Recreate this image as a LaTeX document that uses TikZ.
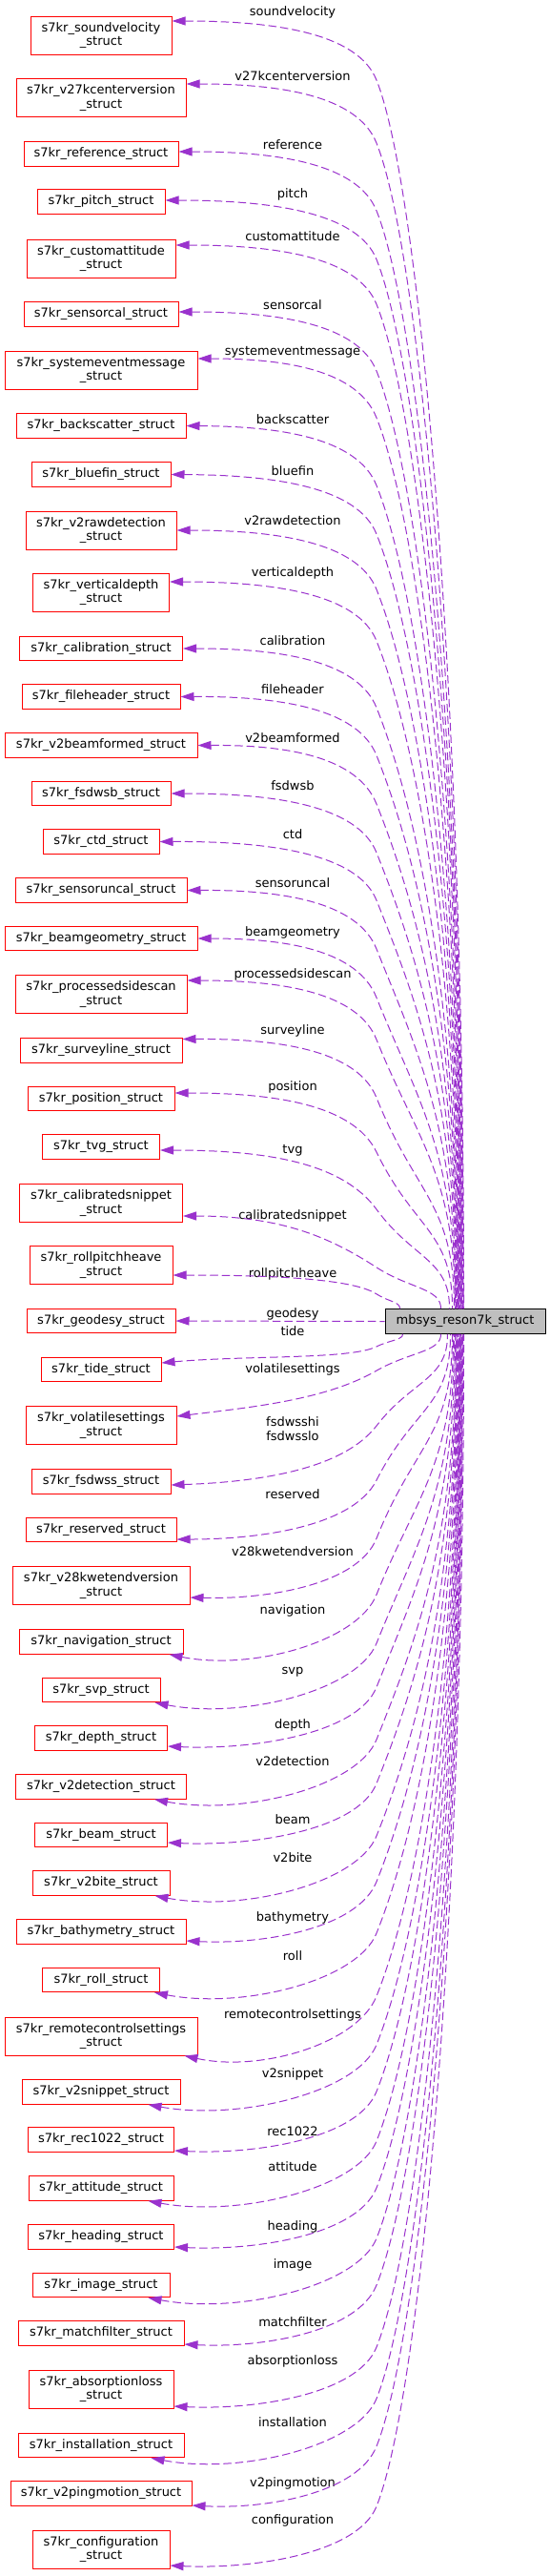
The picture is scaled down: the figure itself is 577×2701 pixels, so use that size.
\documentclass[tikz,border=0pt]{standalone}
\usepackage{fontspec}
\setmainfont{DejaVu Sans}
\usetikzlibrary{arrows.meta,calc}
\definecolor{edgecol}{HTML}{9A32CD}
\definecolor{maingray}{HTML}{BFBFBF}
\tikzset{
  sbox/.style={draw=red, line width=1pt, fill=white, minimum height=25.5pt, inner sep=0pt, align=center, font=\fontsize{13}{14.5}\selectfont},
  tall/.style={minimum height=40pt},
  lbl/.style={inner sep=0pt, anchor=base, align=center, font=\fontsize{13}{15}\selectfont},
  reledge/.style={draw=edgecol, line width=1pt, dash pattern=on 8.5pt off 4pt, {Triangle[length=14pt,width=9pt,fill=edgecol]}-},
}
\newcommand\UpEdge[4]{%
  \pgfmathsetmacro\eD{1373-#3}%
  \pgfmathsetmacro\eKy{#3+min(62,0.55*\eD)}%
  \pgfmathsetmacro\eHx{#4-395}%
  \pgfmathsetmacro\eR{1373-\eKy}%
  \pgfmathsetmacro\eS{max(0.4,\eHx/\eR)}%
  \pgfmathsetmacro\eN{sqrt(1+\eS*\eS)}%
  \pgfmathsetmacro\eUx{\eS/\eN}%
  \pgfmathsetmacro\eUy{1/\eN}%
  \pgfmathsetmacro\eL{min(60,0.8*(\eKy-#3)/\eUy)}%
  \pgfmathsetmacro\eCax{#2+0.5*(395-#2)}%
  \pgfmathsetmacro\eCbx{395-\eUx*\eL}%
  \pgfmathsetmacro\eCby{\eKy-\eUy*\eL}%
  \pgfmathsetmacro\eCcx{395+0.5*\eHx}%
  \pgfmathsetmacro\eCcy{\eKy+0.5*\eHx/\eS}%
  \pgfmathsetmacro\eCdy{1373-0.5*\eR}%
  \draw[reledge] #1 .. controls (\eCax,#3) and (\eCbx,\eCby) .. (395,\eKy) .. controls (\eCcx,\eCcy) and (#4,\eCdy) .. ($(main.north west)+(#4-404,0)$);%
}
\newcommand\LowEdge[5]{%
  \pgfmathsetmacro\eD{#3-1398}%
  \pgfmathsetmacro\eKy{#3-min(62,0.55*\eD)}%
  \pgfmathsetmacro\eHx{#4-395}%
  \pgfmathsetmacro\eR{\eKy-1398}%
  \pgfmathsetmacro\eS{max(0.4,\eHx/\eR)}%
  \pgfmathsetmacro\eN{sqrt(1+\eS*\eS)}%
  \pgfmathsetmacro\eUx{\eS/\eN}%
  \pgfmathsetmacro\eUy{1/\eN}%
  \pgfmathsetmacro\eL{min(60,0.8*(#3-\eKy)/\eUy)}%
  \pgfmathsetmacro\eCax{#2+0.4*(395-#2)}%
  \pgfmathsetmacro\eCay{#3+(#5)}%
  \pgfmathsetmacro\eCbx{395-\eUx*\eL}%
  \pgfmathsetmacro\eCby{\eKy+\eUy*\eL}%
  \pgfmathsetmacro\eCcx{395+0.5*\eHx}%
  \pgfmathsetmacro\eCcy{\eKy-0.5*\eHx/\eS}%
  \pgfmathsetmacro\eCdy{1398+0.5*\eR}%
  \draw[reledge] #1 .. controls (\eCax,\eCay) and (\eCbx,\eCby) .. (395,\eKy) .. controls (\eCcx,\eCcy) and (#4,\eCdy) .. ($(main.south west)+(#4-404,0)$);%
}
\begin{document}
\begin{tikzpicture}[x=1pt,y=-1pt]
\fill[white] (0,0) rectangle (577,2701);
\useasboundingbox (0,0) rectangle (577,2701);

% main node
\node[draw=black, fill=maingray, line width=1pt, minimum width=168pt, minimum height=25.5pt, inner sep=0pt, font=\fontsize{13}{14.5}\selectfont] (main) at (488,1385.5) {mbsys\_reson7k\_struct};

% member structs
\node[sbox,tall,minimum width=148] (n1) at (106,37) {s7kr\_soundvelocity\\\_struct};
\node[sbox,tall,minimum width=178] (n2) at (106,102.5) {s7kr\_v27kcenterversion\\\_struct};
\node[sbox,minimum width=162] (n3) at (106,161.5) {s7kr\_reference\_struct};
\node[sbox,minimum width=134] (n4) at (106,211.5) {s7kr\_pitch\_struct};
\node[sbox,tall,minimum width=156] (n5) at (106,271) {s7kr\_customattitude\\\_struct};
\node[sbox,minimum width=162] (n6) at (106,329.5) {s7kr\_sensorcal\_struct};
\node[sbox,tall,minimum width=202] (n7) at (106,388) {s7kr\_systemeventmessage\\\_struct};
\node[sbox,minimum width=178] (n8) at (106,446.5) {s7kr\_backscatter\_struct};
\node[sbox,minimum width=146] (n9) at (106,497.5) {s7kr\_bluefin\_struct};
\node[sbox,tall,minimum width=158] (n10) at (106,556) {s7kr\_v2rawdetection\\\_struct};
\node[sbox,tall,minimum width=143] (n11) at (106,621) {s7kr\_verticaldepth\\\_struct};
\node[sbox,minimum width=171] (n12) at (106,680) {s7kr\_calibration\_struct};
\node[sbox,minimum width=166] (n13) at (106,730.5) {s7kr\_fileheader\_struct};
\node[sbox,minimum width=202] (n14) at (106,781.5) {s7kr\_v2beamformed\_struct};
\node[sbox,minimum width=146] (n15) at (106,832) {s7kr\_fsdwsb\_struct};
\node[sbox,minimum width=122] (n16) at (106,882.5) {s7kr\_ctd\_struct};
\node[sbox,minimum width=180] (n17) at (106,933.5) {s7kr\_sensoruncal\_struct};
\node[sbox,minimum width=202] (n18) at (106,984) {s7kr\_beamgeometry\_struct};
\node[sbox,tall,minimum width=180] (n19) at (106,1042.5) {s7kr\_processedsidescan\\\_struct};
\node[sbox,minimum width=170] (n20) at (106,1101.5) {s7kr\_surveyline\_struct};
\node[sbox,minimum width=154] (n21) at (106,1152) {s7kr\_position\_struct};
\node[sbox,minimum width=123] (n22) at (106,1202.5) {s7kr\_tvg\_struct};
\node[sbox,tall,minimum width=171] (n23) at (106,1261.5) {s7kr\_calibratedsnippet\\\_struct};
\node[sbox,tall,minimum width=150] (n24) at (106,1326.5) {s7kr\_rollpitchheave\\\_struct};
\node[sbox,minimum width=156] (n25) at (106,1385) {s7kr\_geodesy\_struct};
\node[sbox,minimum width=126] (n26) at (106,1436) {s7kr\_tide\_struct};
\node[sbox,tall,minimum width=158] (n27) at (106,1494.5) {s7kr\_volatilesettings\\\_struct};
\node[sbox,minimum width=146] (n28) at (106,1553.5) {s7kr\_fsdwss\_struct};
\node[sbox,minimum width=158] (n29) at (106,1604) {s7kr\_reserved\_struct};
\node[sbox,tall,minimum width=186] (n30) at (106,1662.5) {s7kr\_v28kwetendversion\\\_struct};
\node[sbox,minimum width=172] (n31) at (106,1721.5) {s7kr\_navigation\_struct};
\node[sbox,minimum width=124] (n32) at (106,1772) {s7kr\_svp\_struct};
\node[sbox,minimum width=139] (n33) at (106,1822.5) {s7kr\_depth\_struct};
\node[sbox,minimum width=179] (n34) at (106,1873.5) {s7kr\_v2detection\_struct};
\node[sbox,minimum width=139] (n35) at (106,1924) {s7kr\_beam\_struct};
\node[sbox,minimum width=144] (n36) at (106,1974.5) {s7kr\_v2bite\_struct};
\node[sbox,minimum width=178] (n37) at (106,2025.5) {s7kr\_bathymetry\_struct};
\node[sbox,minimum width=123] (n38) at (106,2076) {s7kr\_roll\_struct};
\node[sbox,tall,minimum width=202] (n39) at (106,2135) {s7kr\_remotecontrolsettings\\\_struct};
\node[sbox,minimum width=166] (n40) at (106,2193.5) {s7kr\_v2snippet\_struct};
\node[sbox,minimum width=153] (n41) at (106,2243.5) {s7kr\_rec1022\_struct};
\node[sbox,minimum width=152] (n42) at (106,2294.5) {s7kr\_attitude\_struct};
\node[sbox,minimum width=153] (n43) at (106,2345.5) {s7kr\_heading\_struct};
\node[sbox,minimum width=144] (n44) at (106,2396) {s7kr\_image\_struct};
\node[sbox,minimum width=174] (n45) at (106,2446.5) {s7kr\_matchfilter\_struct};
\node[sbox,tall,minimum width=152] (n46) at (106,2505) {s7kr\_absorptionloss\\\_struct};
\node[sbox,minimum width=174] (n47) at (106,2564) {s7kr\_installation\_struct};
\node[sbox,minimum width=190] (n48) at (106,2614.5) {s7kr\_v2pingmotion\_struct};
\node[sbox,tall,minimum width=144] (n49) at (106,2673) {s7kr\_configuration\\\_struct};

% edge labels
\node[lbl] (l1) at (307,16) {soundvelocity};
\node[lbl] (l2) at (307,84) {v27kcenterversion};
\node[lbl] (l3) at (307,156) {reference};
\node[lbl] (l4) at (307,207) {pitch};
\node[lbl] (l5) at (307,252) {customattitude};
\node[lbl] (l6) at (307,324) {sensorcal};
\node[lbl] (l7) at (307,372) {systemeventmessage};
\node[lbl] (l8) at (307,444) {backscatter};
\node[lbl] (l9) at (307,498) {bluefin};
\node[lbl] (l10) at (307,550) {v2rawdetection};
\node[lbl] (l11) at (307,604) {verticaldepth};
\node[lbl] (l12) at (307,676) {calibration};
\node[lbl] (l13) at (307,727) {fileheader};
\node[lbl] (l14) at (307,778) {v2beamformed};
\node[lbl] (l15) at (307,828) {fsdwsb};
\node[lbl] (l16) at (307,879) {ctd};
\node[lbl] (l17) at (307,930) {sensoruncal};
\node[lbl] (l18) at (307,981) {beamgeometry};
\node[lbl] (l19) at (307,1025) {processedsidescan};
\node[lbl] (l20) at (307,1084) {surveyline};
\node[lbl] (l21) at (307,1143) {position};
\node[lbl] (l22) at (307,1209) {tvg};
\node[lbl] (l23) at (307,1278) {calibratedsnippet};
\node[lbl] (l24) at (307,1339) {rollpitchheave};
\node[lbl] (l25) at (307,1381) {geodesy};
\node[lbl] (l26) at (307,1400) {tide};
\node[lbl] (l27) at (307,1439) {volatilesettings};
\node[lbl,anchor=center] (l28) at (307,1498.5) {fsdwsshi\\fsdwsslo};
\node[lbl] (l29) at (307,1571) {reserved};
\node[lbl] (l30) at (307,1631) {v28kwetendversion};
\node[lbl] (l31) at (307,1692) {navigation};
\node[lbl] (l32) at (307,1755) {svp};
\node[lbl] (l33) at (307,1812) {depth};
\node[lbl] (l34) at (307,1851) {v2detection};
\node[lbl] (l35) at (307,1912) {beam};
\node[lbl] (l36) at (307,1952) {v2bite};
\node[lbl] (l37) at (307,2014) {bathymetry};
\node[lbl] (l38) at (307,2055) {roll};
\node[lbl] (l39) at (307,2116) {remotecontrolsettings};
\node[lbl] (l40) at (307,2178) {v2snippet};
\node[lbl] (l41) at (307,2239) {rec1022};
\node[lbl] (l42) at (307,2276) {attitude};
\node[lbl] (l43) at (307,2338) {heading};
\node[lbl] (l44) at (307,2378) {image};
\node[lbl] (l45) at (307,2439) {matchfilter};
\node[lbl] (l46) at (307,2479) {absorptionloss};
\node[lbl] (l47) at (307,2544) {installation};
\node[lbl] (l48) at (307,2607) {v2pingmotion};
\node[lbl] (l49) at (307,2646) {configuration};

% edges above the main node
\UpEdge{($(n1.east)+(0,-15)$)}{180}{22}{487}
\UpEdge{($(n2.east)+(0,-14.5)$)}{195}{88}{486.5}
\UpEdge{($(n3.east)+(0,-2.5)$)}{187}{159}{486}
\UpEdge{($(n4.east)+(0,-1.5)$)}{173}{210}{485.5}
\UpEdge{($(n5.east)+(0,-14)$)}{184}{257}{485}
\UpEdge{($(n6.east)+(0,-2.5)$)}{187}{327}{484.5}
\UpEdge{($(n7.east)+(0,-12)$)}{207}{376}{484}
\UpEdge{(n8.east)}{195}{447}{483.5}
\UpEdge{(n9.east)}{179}{498}{483}
\UpEdge{(n10.east)}{185}{556}{482.5}
\UpEdge{($(n11.east)+(0,-11)$)}{178}{610}{482}
\UpEdge{(n12.east)}{192}{680}{481.5}
\UpEdge{(n13.east)}{189}{730}{481}
\UpEdge{(n14.east)}{207}{781}{480.5}
\UpEdge{(n15.east)}{179}{832}{480}
\UpEdge{(n16.east)}{167}{882}{479.5}
\UpEdge{(n17.east)}{196}{933}{479}
\UpEdge{(n18.east)}{207}{984}{478.5}
\UpEdge{($(n19.east)+(0,-14.5)$)}{196}{1028}{478}
\UpEdge{($(n20.east)+(0,-12)$)}{191}{1089}{477}
\UpEdge{($(n21.east)+(0,-6)$)}{183}{1146}{475}
\UpEdge{($(n22.east)+(0,3.5)$)}{168}{1206}{472}
\UpEdge{($(n23.east)+(0,13.5)$)}{192}{1275}{463}
\UpEdge{($(n24.east)+(0,10.5)$)}{181}{1337}{420}

% straight edge
\draw[reledge] (n25.east) -- (main.west);

% edges below the main node
\LowEdge{($(n26.east)+(0,-7)$)}{169}{1429}{423}{-8}
\LowEdge{($(n27.east)+(0,-9.5)$)}{185}{1485}{463}{-10}
\LowEdge{($(n28.east)+(0,3.5)$)}{179}{1557}{470}{-3}
\LowEdge{($(n29.east)+(0,10)$)}{185}{1614}{473}{0}
\LowEdge{($(n30.east)+(0,12.5)$)}{199}{1675}{475}{2}
\LowEdge{($(n31.south east)+(-15,0)$)}{177}{1734}{476}{18}
\LowEdge{($(n32.south east)+(-6,0)$)}{162}{1785}{477}{18}
\LowEdge{($(n33.east)+(0,8.5)$)}{175}{1831}{478}{4}
\LowEdge{($(n34.south east)+(-34,0)$)}{162}{1886}{479}{18}
\LowEdge{($(n35.east)+(0,8)$)}{175}{1932}{479.5}{4}
\LowEdge{($(n36.south east)+(-16,0)$)}{162}{1987}{480}{18}
\LowEdge{($(n37.east)+(0,9.5)$)}{195}{2035}{480.5}{4}
\LowEdge{($(n38.south east)+(-6,0)$)}{162}{2089}{481}{18}
\LowEdge{($(n39.south east)+(-14,0)$)}{193}{2155}{481.5}{18}
\LowEdge{($(n40.south east)+(-34,0)$)}{155}{2206}{482}{18}
\LowEdge{($(n41.east)+(0,11.5)$)}{183}{2255}{482.5}{4}
\LowEdge{($(n42.south east)+(-27,0)$)}{155}{2307}{483}{18}
\LowEdge{($(n43.east)+(0,10.5)$)}{183}{2356}{483.5}{4}
\LowEdge{($(n44.south east)+(-23,0)$)}{155}{2409}{484}{18}
\LowEdge{($(n45.east)+(0,11.5)$)}{193}{2458}{484.5}{4}
\LowEdge{($(n46.east)+(0,18)$)}{182}{2523}{485}{4}
\LowEdge{($(n47.south east)+(-35,0)$)}{158}{2577}{485.5}{18}
\LowEdge{($(n48.east)+(0,12.5)$)}{201}{2627}{486}{4}
\LowEdge{($(n49.east)+(0,17)$)}{178}{2690}{487}{4}
\end{tikzpicture}
\end{document}
